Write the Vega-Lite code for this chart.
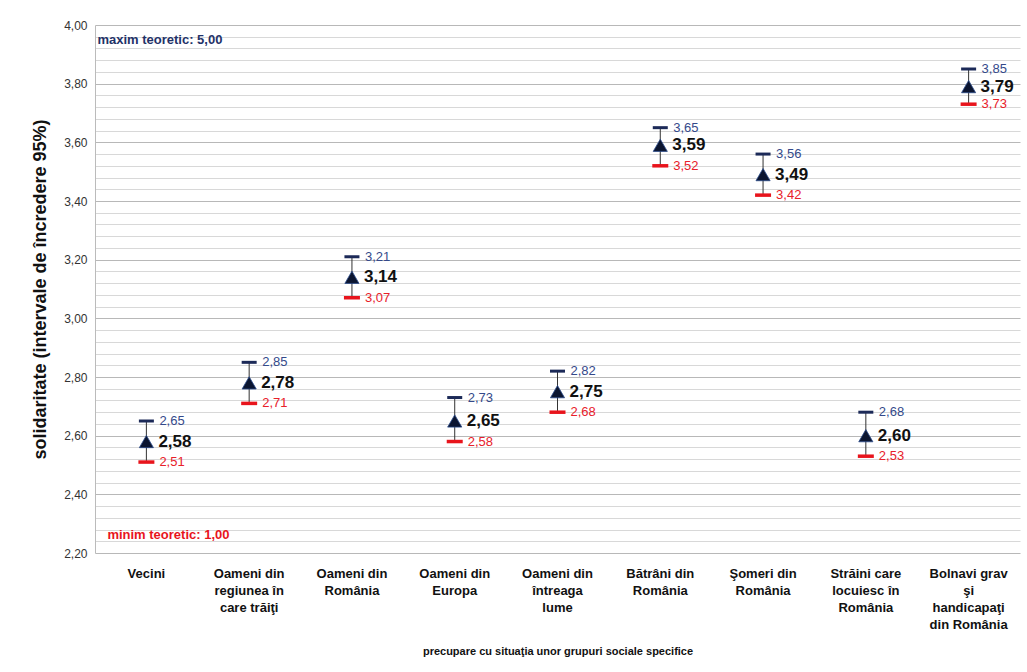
{
  "$schema": "https://vega.github.io/schema/vega-lite/v6.json",
  "autosize": {"type": "none"},
  "width": 925,
  "height": 528,
  "padding": {"left": 95, "top": 25, "right": 7, "bottom": 119},
  "background": "white",
  "config": {
    "locale": {"number": {"decimal": ",", "thousands": ".", "grouping": [3], "currency": ["", " lei"]}},
    "view": {"stroke": null},
    "font": "Liberation Sans"
  },
  "data": {
    "values": [
      {"grup": "Vecini", "medie": 2.58, "sus": 2.65, "jos": 2.51},
      {"grup": "Oameni din|regiunea în|care trăiţi", "medie": 2.78, "sus": 2.85, "jos": 2.71},
      {"grup": "Oameni din|România", "medie": 3.14, "sus": 3.21, "jos": 3.07},
      {"grup": "Oameni din|Europa", "medie": 2.65, "sus": 2.73, "jos": 2.58},
      {"grup": "Oameni din|întreaga|lume", "medie": 2.75, "sus": 2.82, "jos": 2.68},
      {"grup": "Bătrâni din|România", "medie": 3.59, "sus": 3.65, "jos": 3.52},
      {"grup": "Şomeri din|România", "medie": 3.49, "sus": 3.56, "jos": 3.42},
      {"grup": "Străini care|locuiesc în|România", "medie": 2.60, "sus": 2.68, "jos": 2.53},
      {"grup": "Bolnavi grav|şi|handicapaţi|din România", "medie": 3.79, "sus": 3.85, "jos": 3.73}
    ]
  },
  "encoding": {
    "x": {
      "field": "grup", "type": "nominal", "sort": null,
      "scale": {"paddingInner": 0, "paddingOuter": 0},
      "axis": {
        "title": "precupare cu situaţia unor grupuri sociale  specifice",
        "titleFont": "Liberation Sans", "titleFontSize": 11, "titleFontWeight": "bold", "titleColor": "#111",
        "titlePadding": 14,
        "labelExpr": "split(datum.label, '|')",
        "labelAngle": 0, "labelFont": "Liberation Sans", "labelFontSize": 13, "labelFontWeight": "bold",
        "labelColor": "#111", "labelLineHeight": 17, "labelPadding": 14, "labelBaseline": "top",
        "labelOverlap": false,
        "ticks": false, "domain": false, "grid": false
      }
    }
  },
  "layer": [
    {
      "mark": {"type": "rule", "color": "#333", "strokeWidth": 1},
      "encoding": {
        "y": {
          "field": "jos", "type": "quantitative",
          "scale": {"domain": [2.2, 4.0], "nice": false, "zero": false},
          "axis": {
            "title": "solidaritate (intervale de încredere 95%)",
            "titleFont": "Liberation Sans", "titleFontSize": 18, "titleFontWeight": "bold", "titleColor": "#111",
            "titlePadding": 14,
            "values": [2.2, 2.24, 2.28, 2.32, 2.36, 2.4, 2.44, 2.48, 2.52, 2.56, 2.6, 2.64, 2.68, 2.72, 2.76, 2.8, 2.84, 2.88, 2.92, 2.96, 3.0, 3.04, 3.08, 3.12, 3.16, 3.2, 3.24, 3.28, 3.32, 3.36, 3.4, 3.44, 3.48, 3.52, 3.56, 3.6, 3.64, 3.68, 3.72, 3.76, 3.8, 3.84, 3.88, 3.92, 3.96, 4.0],
            "tickCount": 60,
            "format": ".2f",
            "labelExpr": "abs(datum.value * 5 - round(datum.value * 5)) < 0.001 ? datum.label : ''",
            "labelOverlap": false,
            "labelFont": "Liberation Sans", "labelFontSize": 12, "labelColor": "#333", "labelPadding": 8,
            "ticks": false, "domain": true, "domainColor": "#bbbbbb",
            "grid": true,
            "gridColor": {"condition": {"test": "abs(datum.value * 5 - round(datum.value * 5)) < 0.001", "value": "#b8b8b8"}, "value": "#d8d8d8"},
            "gridWidth": 1.2
          }
        },
        "y2": {"field": "sus"}
      }
    },
    {
      "mark": {"type": "tick", "color": "#1c2a58", "thickness": 3, "size": 15, "opacity": 1},
      "encoding": {"y": {"field": "sus", "type": "quantitative"}}
    },
    {
      "mark": {"type": "tick", "color": "#e8141c", "thickness": 3.5, "size": 16, "opacity": 1},
      "encoding": {"y": {"field": "jos", "type": "quantitative"}}
    },
    {
      "mark": {"type": "point", "shape": "triangle-up", "filled": true, "color": "#0b1530", "size": 200, "opacity": 1, "stroke": "#2a4a8a", "strokeWidth": 0.8},
      "encoding": {"y": {"field": "medie", "type": "quantitative"}}
    },
    {
      "mark": {"type": "text", "align": "left", "baseline": "middle", "dx": 13, "fontSize": 13, "color": "#34498a"},
      "encoding": {"y": {"field": "sus", "type": "quantitative"}, "text": {"field": "sus", "type": "quantitative", "format": ".2f"}}
    },
    {
      "mark": {"type": "text", "align": "left", "baseline": "middle", "dx": 12, "fontSize": 17, "fontWeight": "bold", "color": "#111"},
      "encoding": {"y": {"field": "medie", "type": "quantitative"}, "text": {"field": "medie", "type": "quantitative", "format": ".2f"}}
    },
    {
      "mark": {"type": "text", "align": "left", "baseline": "middle", "dx": 13, "fontSize": 13, "color": "#e8202a"},
      "encoding": {"y": {"field": "jos", "type": "quantitative"}, "text": {"field": "jos", "type": "quantitative", "format": ".2f"}}
    },
    {
      "data": {"values": [{"grup": "Vecini", "y": 3.95, "t": "maxim teoretic: 5,00"}]},
      "mark": {"type": "text", "align": "left", "baseline": "middle", "fontSize": 13, "fontWeight": "bold", "color": "#1f3268", "dx": -49},
      "encoding": {"y": {"field": "y", "type": "quantitative"}, "text": {"field": "t"}}
    },
    {
      "data": {"values": [{"grup": "Vecini", "y": 2.262, "t": "minim teoretic: 1,00"}]},
      "mark": {"type": "text", "align": "left", "baseline": "middle", "fontSize": 13, "fontWeight": "bold", "color": "#e8141c", "dx": -39},
      "encoding": {"y": {"field": "y", "type": "quantitative"}, "text": {"field": "t"}}
    }
  ]
}
